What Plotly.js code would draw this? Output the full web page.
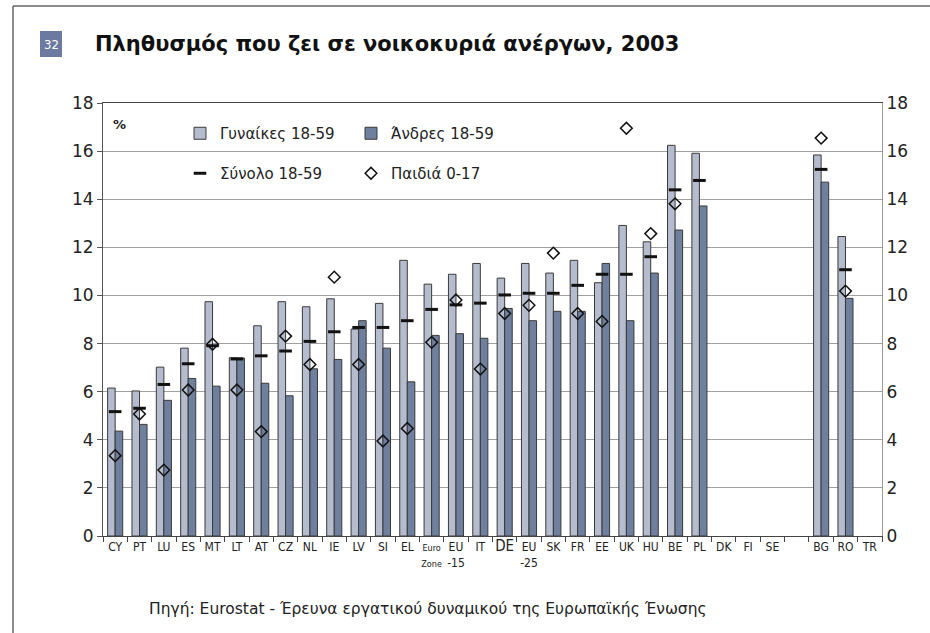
<!DOCTYPE html>
<html>
<head>
<meta charset="utf-8">
<script src="https://cdn.plot.ly/plotly-3.0.1.min.js"></script>
<style>
  html, body { margin: 0; padding: 0; background: #fff; }
  #chart { width: 930px; height: 633px; }
</style>
</head>
<body>
<div id="chart"></div>
<script>
// categories (the "gap" slot stays empty, as in the original)
var categories = ['CY', 'PT', 'LU', 'ES', 'MT', 'LT', 'AT', 'CZ', 'NL', 'IE', 'LV', 'SI', 'EL',
    'EZ', 'EU15', 'IT', 'DE', 'EU25', 'SK', 'FR', 'EE', 'UK', 'HU', 'BE', 'PL', 'DK', 'FI', 'SE',
    'gap', 'BG', 'RO', 'TR'];
var tickLabels = ['CY', 'PT', 'LU', 'ES', 'MT', 'LT', 'AT', 'CZ', 'NL', 'IE', 'LV', 'SI', 'EL',
    '<span style="font-size:9px">Euro</span><br><span style="font-size:9px">Zone</span>',
    'EU<br>-15', 'IT', '<span style="font-size:15px">DE</span>', 'EU<br>-25', 'SK', 'FR', 'EE',
    'UK', 'HU', 'BE', 'PL', 'DK', 'FI', 'SE', ' ', 'BG', 'RO', 'TR'];

var women = [6.15, 6.03, 7.02, 7.81, 9.74, 7.41, 8.74, 9.74, 9.53, 9.86, 8.6, 9.67, 11.46,
    10.47, 10.88, 11.33, 10.72, 11.33, 10.93, 11.46, 10.53, 12.91, 12.23, 16.24, 15.91,
    null, null, null, null, 15.84, 12.45, null];
var men = [4.36, 4.64, 5.64, 6.55, 6.23, 7.4, 6.35, 5.83, 6.95, 7.34, 8.95, 7.81, 6.41,
    8.34, 8.41, 8.22, 9.46, 8.95, 9.34, 9.34, 11.33, 8.95, 10.93, 12.72, 13.72,
    null, null, null, null, 14.71, 9.88, null];
var total = [5.17, 5.31, 6.3, 7.16, 7.91, 7.36, 7.49, 7.69, 8.09, 8.49, 8.67, 8.67, 8.95,
    9.42, 9.61, 9.68, 10.02, 10.09, 10.09, 10.42, 10.88, 10.88, 11.61, 14.39, 14.78,
    null, null, null, null, 15.24, 11.07, null];
var children = [3.34, 5.07, 2.74, 6.07, 7.97, 6.07, 4.34, 8.31, 7.13, 10.76, 7.13, 3.95, 4.47,
    8.05, 9.81, 6.94, 9.25, 9.59, 11.76, 9.25, 8.92, 16.95, 12.57, 13.81, null,
    null, null, null, null, 16.54, 10.18, null];

var seriesNames = ['Γυναίκες 18-59', 'Άνδρες 18-59', 'Σύνολο 18-59', 'Παιδιά 0-17'];
var yTicks = [0, 2, 4, 6, 8, 10, 12, 14, 16, 18];

// plot area in pixels, used to place the decorations around it
var W = 930, H = 633;
var margin = {l: 103, r: 48, t: 103, b: 97};
var plotW = W - margin.l - margin.r;
var plotH = H - margin.t - margin.b;
function px(x) { return (x - margin.l) / plotW; }
function py(y) { return (H - margin.b - y) / plotH; }

var mainFont = 'DejaVu Sans, Verdana, sans-serif';
var narrowFont = 'Liberation Sans Narrow, DejaVu Sans Condensed, Arial Narrow, sans-serif';

var traces = [
    {
        type: 'bar', name: seriesNames[0], x: categories, y: women,
        marker: {color: '#b4bccd', line: {color: '#3a3a3a', width: 1}},
        legend: 'legend', hoverinfo: 'y'
    },
    {
        type: 'bar', name: seriesNames[1], x: categories, y: men,
        marker: {color: '#6f7f9e', line: {color: '#3a3a3a', width: 1}},
        legend: 'legend', hoverinfo: 'y'
    },
    {
        type: 'scatter', mode: 'markers', name: seriesNames[2], x: categories, y: total,
        marker: {symbol: 'line-ew', size: 9, color: '#111', line: {color: '#111', width: 3}},
        legend: 'legend2', hoverinfo: 'y'
    },
    {
        type: 'scatter', mode: 'markers', name: seriesNames[3], x: categories, y: children,
        marker: {symbol: 'diamond-open', size: 9, color: '#111', line: {color: '#111', width: 1.5}},
        legend: 'legend2', hoverinfo: 'y'
    }
];

var legendStyle = {
    orientation: 'h',
    xanchor: 'left', yanchor: 'top',
    entrywidth: 126, entrywidthmode: 'pixels',
    itemwidth: 30,
    bgcolor: 'rgba(255,255,255,0)',
    font: {family: mainFont, size: 15, color: '#222'},
    itemclick: false, itemdoubleclick: false
};

var layout = {
    width: W,
    height: H,
    margin: margin,
    paper_bgcolor: '#fff',
    plot_bgcolor: '#fff',
    barmode: 'group',
    bargap: 0.38,
    bargroupgap: 0,
    showlegend: true,
    font: {family: mainFont, color: '#111'},
    xaxis: {
        type: 'category',
        categoryorder: 'array',
        categoryarray: categories,
        range: [-0.5, categories.length - 0.5],
        tickmode: 'array',
        tickvals: categories,
        ticktext: tickLabels,
        tickangle: 0,
        tickson: 'boundaries',
        ticks: 'outside',
        ticklen: 5,
        tickcolor: '#444',
        tickfont: {family: narrowFont, size: 12, color: '#222'},
        showline: true,
        mirror: true,
        linecolor: '#444',
        linewidth: 1,
        showgrid: false,
        fixedrange: true
    },
    yaxis: {
        range: [0, 18],
        tickvals: yTicks,
        ticks: 'outside',
        ticklen: 5,
        tickcolor: '#555',
        tickfont: {family: mainFont, size: 17, color: '#222'},
        showline: true,
        linecolor: '#555',
        showgrid: true,
        gridcolor: '#a0a0a0',
        gridwidth: 1,
        zeroline: false,
        fixedrange: true
    },
    yaxis2: {
        range: [0, 18],
        tickvals: yTicks,
        overlaying: 'y',
        side: 'right',
        ticks: '',
        tickfont: {family: mainFont, size: 17, color: '#222'},
        showline: true,
        linecolor: '#999',
        showgrid: false,
        zeroline: false,
        fixedrange: true
    },
    legend: Object.assign({x: px(180), y: py(117)}, legendStyle),
    legend2: Object.assign({x: px(180), y: py(157)}, legendStyle),
    shapes: [
        // outer frame of the page
        {type: 'line', xref: 'paper', yref: 'paper', x0: px(13), x1: px(13), y0: py(6), y1: py(640),
            line: {color: '#666', width: 1.5}},
        {type: 'line', xref: 'paper', yref: 'paper', x0: px(13), x1: px(935), y0: py(6), y1: py(6),
            line: {color: '#666', width: 1.5}},
        // number badge
        {type: 'rect', xref: 'paper', yref: 'paper', x0: px(40), x1: px(62), y0: py(31), y1: py(57),
            fillcolor: '#6c7aa1', line: {width: 0}}
    ],
    annotations: [
        {xref: 'paper', yref: 'paper', x: px(51), y: py(44), text: '32', showarrow: false,
            xanchor: 'center', yanchor: 'middle',
            font: {family: narrowFont, size: 13, color: '#fff'}},
        {xref: 'paper', yref: 'paper', x: px(93), y: py(44),
            text: '<b>Πληθυσμός που ζει σε νοικοκυριά ανέργων, 2003</b>', showarrow: false,
            xanchor: 'left', yanchor: 'middle',
            font: {family: mainFont, size: 21, color: '#111'}},
        {xref: 'paper', yref: 'paper', x: px(111), y: py(124), text: '<b>%</b>', showarrow: false,
            xanchor: 'left', yanchor: 'middle',
            font: {family: mainFont, size: 13, color: '#222'}},
        {xref: 'paper', yref: 'paper', x: px(147), y: py(609),
            text: 'Πηγή: Eurostat - Έρευνα εργατικού δυναμικού της Ευρωπαϊκής Ένωσης', showarrow: false,
            xanchor: 'left', yanchor: 'middle',
            font: {family: mainFont, size: 15.5, color: '#222'}}
    ]
};

// a hidden trace so the right-hand axis gets drawn
traces.push({
    type: 'scatter', mode: 'markers', x: [categories[0]], y: [0], yaxis: 'y2',
    marker: {opacity: 0}, showlegend: false, hoverinfo: 'skip'
});

Plotly.newPlot('chart', traces, layout, {staticPlot: true, displayModeBar: false});
</script>
</body>
</html>
